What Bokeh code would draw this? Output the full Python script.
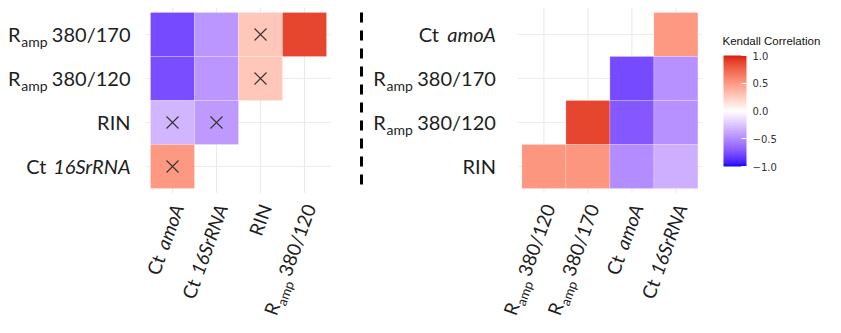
import numpy as np
from bokeh.plotting import figure
from bokeh.models import (ColumnDataSource, Range1d, LinearColorMapper, ColorBar,
                          FixedTicker, CustomJSTickFormatter, Label)
from bokeh.core.properties import value
from bokeh.transform import transform
from bokeh.embed import file_html
from bokeh.resources import INLINE

# ---------------- data ----------------
LEFT_X = ["Ct amoA", "Ct 16SrRNA", "RIN", "Ramp 380/120"]
LEFT_Y = ["Ct 16SrRNA", "RIN", "Ramp 380/120", "Ramp 380/170"]          # bottom -> top
left_cell_x = ["Ct amoA", "Ct 16SrRNA", "RIN", "Ramp 380/120",
               "Ct amoA", "Ct 16SrRNA", "RIN",
               "Ct amoA", "Ct 16SrRNA",
               "Ct amoA"]
left_cell_y = ["Ramp 380/170"] * 4 + ["Ramp 380/120"] * 3 + ["RIN"] * 2 + ["Ct 16SrRNA"]
left_tau = [-0.78, -0.45, 0.28, 0.88,
            -0.76, -0.45, 0.28,
            -0.32, -0.43,
            0.50]
left_nonsig = [0, 0, 1, 0,
               0, 0, 1,
               1, 1,
               1]

RIGHT_X = ["Ramp 380/120", "Ramp 380/170", "Ct amoA", "Ct 16SrRNA"]
RIGHT_Y = ["RIN", "Ramp 380/120", "Ramp 380/170", "Ct amoA"]             # bottom -> top
right_cell_x = ["Ct 16SrRNA",
                "Ct amoA", "Ct 16SrRNA",
                "Ramp 380/170", "Ct amoA", "Ct 16SrRNA",
                "Ramp 380/120", "Ramp 380/170", "Ct amoA", "Ct 16SrRNA"]
right_cell_y = ["Ct amoA"] + ["Ramp 380/170"] * 2 + ["Ramp 380/120"] * 3 + ["RIN"] * 4
right_tau = [0.50,
             -0.78, -0.47,
             0.88, -0.72, -0.47,
             0.52, 0.52, -0.50, -0.35]

LEGEND_TITLE = "Kendall Correlation"
LEGEND_TICKS = [-1.0, -0.5, 0.0, 0.5, 1.0]

# label rich-text parts: (text, kind)
LABEL_PARTS = {
    "Ct amoA": [("Ct", "normal"), ("amoA", "italic")],
    "Ct 16SrRNA": [("Ct", "normal"), ("16SrRNA", "italic")],
    "RIN": [("RIN", "normal")],
    "Ramp 380/120": [("R", "normal"), ("amp", "sub"), ("380/120", "normal")],
    "Ramp 380/170": [("R", "normal"), ("amp", "sub"), ("380/170", "normal")],
}

# ---------------- layout constants (pixels) ----------------
W, H = 825, 317
S = 44.0                       # pixels per cell
X0 = -172 / S
Y0 = -(H - 166) / S
OFF_R = (543.4 - 172) / S      # right panel offset in cell units
DASH_X = (361 - 172) / S
SEG_W = {"380/120": 77, "380/170": 77, "amp": 27, "amoA": 54, "16SrRNA": 81,
         "RIN": 31, "Ct": 20, "R": 14}
GAP_BEFORE = {"amp": 0, "380/120": 6, "380/170": 6, "amoA": 3, "16SrRNA": 3}
SUB_SHIFT = 8
BASE_CORR = -8                 # renderer baseline correction (px, perpendicular)
ANG = np.deg2rad(70)
XL_SCALE = 0.95                # x-axis labels slightly smaller so they fit
TXT_COLOR = "#1e1e1e"
FONT = "Lato"


# ---------------- colour palette (Lab interpolation like gradient2) ----------------
def _hex(h):
    h = h.lstrip("#")
    return np.array([int(h[i:i + 2], 16) for i in (0, 2, 4)]) / 255.0


_M = np.array([[0.4124, 0.3576, 0.1805], [0.2126, 0.7152, 0.0722], [0.0193, 0.1192, 0.9505]])
_WHITE = np.array([0.95047, 1.0, 1.08883])


def to_lab(rgb):
    lin = np.where(rgb <= 0.04045, rgb / 12.92, ((rgb + 0.055) / 1.055) ** 2.4)
    xyz = _M @ lin / _WHITE
    d = 6 / 29
    f = np.where(xyz > d ** 3, np.cbrt(xyz), xyz / (3 * d * d) + 4 / 29)
    return np.array([116 * f[1] - 16, 500 * (f[0] - f[1]), 200 * (f[1] - f[2])])


def from_lab(lab):
    fy = (lab[0] + 16) / 116
    f = np.array([fy + lab[1] / 500, fy, fy - lab[2] / 200])
    d = 6 / 29
    xyz = np.where(f > d, f ** 3, 3 * d * d * (f - 4 / 29)) * _WHITE
    lin = np.clip(np.linalg.solve(_M, xyz), 0, 1)
    rgb = np.where(lin <= 0.0031308, 12.92 * lin, 1.055 * lin ** (1 / 2.4) - 0.055)
    r, g, b = (np.clip(rgb, 0, 1) * 255).round().astype(int)
    return "#%02x%02x%02x" % (r, g, b)


def gradient2(n, low, mid, high):
    lo, mi, hi = to_lab(_hex(low)), to_lab(_hex(mid)), to_lab(_hex(high))
    out = []
    for t in np.linspace(-1, 1, n):
        lab = mi + (lo - mi) * (-t) if t < 0 else mi + (hi - mi) * t
        out.append(from_lab(lab))
    return out


PALETTE = gradient2(256, "#0000FF", "#FFFFFF", "#DC1A12")
mapper = LinearColorMapper(palette=PALETTE, low=-1, high=1)

# ---------------- figure ----------------
p = figure(width=W, height=H, x_range=Range1d(X0, X0 + W / S), y_range=Range1d(Y0, Y0 + H / S),
           output_backend="svg", toolbar_location=None, x_axis_location=None,
           y_axis_location=None, min_border=0, outline_line_color=None)
p.background_fill_color = "white"
p.border_fill_color = "white"
p.grid.visible = False

panels = [(LEFT_X, LEFT_Y, left_cell_x, left_cell_y, left_tau, left_nonsig, 0.0, 20),
          (RIGHT_X, RIGHT_Y, right_cell_x, right_cell_y, right_tau, [0] * len(right_tau), OFF_R, 26)]

parts = {}


def add_label(label, ax, ay, angle, k):
    segs = LABEL_PARTS[label]
    end = 0.0
    ends = []
    for txt, kind in reversed(segs):
        ends.append(end)
        end = end - (SEG_W[txt] + GAP_BEFORE.get(txt, 0)) * k
    ends = ends[::-1]
    for (txt, kind), d in zip(segs, ends):
        s = (SUB_SHIFT if kind == "sub" else 0) * k + BASE_CORR * k
        dx = d * np.cos(angle) + s * np.sin(angle)
        dyd = -d * np.sin(angle) + s * np.cos(angle)
        dct = parts.setdefault((kind, k), dict(x=[], y=[], text=[], angle=[]))
        dct["x"].append(ax + dx / S)
        dct["y"].append(ay - dyd / S)
        dct["text"].append(txt)
        dct["angle"].append(angle)


for xs, ys, cx, cy, tau, ns, off, ygap in panels:
    n = len(xs)
    # grid
    gx0 = [off + i for i in range(n)] + [off - 0.6] * len(ys)
    gx1 = [off + i for i in range(n)] + [off + n - 0.4] * len(ys)
    gy0 = [-0.6] * n + list(range(len(ys)))
    gy1 = [len(ys) - 0.4] * n + list(range(len(ys)))
    p.segment(x0=gx0, y0=gy0, x1=gx1, y1=gy1, line_color="#EBEBEB", line_width=1.1)
    # cells
    src = ColumnDataSource(dict(x=[off + xs.index(a) for a in cx],
                                y=[ys.index(b) for b in cy], tau=tau))
    p.rect(x="x", y="y", width=1, height=1, source=src,
           fill_color=transform("tau", mapper), line_color="white", line_width=0.4, line_alpha=0.5)
    # non-significant crosses
    mx = [off + xs.index(a) for a, f in zip(cx, ns) if f]
    my = [ys.index(b) for b, f in zip(cy, ns) if f]
    if mx:
        p.scatter(x=mx, y=my, marker="x", size=17, line_color="#333333", line_width=1.1)
    # y labels
    for j, lab in enumerate(ys):
        add_label(lab, off - 0.5 - ygap / S, j - 7 / S, 0.0, 1.0)
    # x labels
    for i, lab in enumerate(xs):
        add_label(lab, off + i + 12 / S, -0.5 - 19 / S, ANG, XL_SCALE)

for (kind, k), d in parts.items():
    src = ColumnDataSource(d)
    size = (14 if kind == "sub" else 20) * k
    p.text(x="x", y="y", text="text", angle="angle", source=src,
           text_align="right", text_baseline="alphabetic",
           text_font=value(FONT), text_font_size=f"{size:.1f}px",
           text_font_style="italic" if kind == "italic" else "normal",
           text_color=TXT_COLOR)

# dashed separator
p.line(x=[DASH_X, DASH_X], y=[len(LEFT_Y) - 0.5, -0.5], line_color="black",
       line_width=3, line_dash="10 8")

# colour bar
cb = ColorBar(color_mapper=mapper, location=(723, H - 166), width=23, height=111, padding=0,
              ticker=FixedTicker(ticks=LEGEND_TICKS),
              formatter=CustomJSTickFormatter(code="return (tick < 0 ? '\u2212' : '') + Math.abs(tick).toFixed(1);"),
              major_label_text_font="DejaVu Sans", major_label_text_font_size="10px",
              major_label_text_color="#333333", label_standoff=6,
              major_tick_line_color="white", major_tick_in=5, major_tick_out=0,
              minor_tick_line_color=None, bar_line_color=None,
              background_fill_alpha=0, border_line_color=None)
p.add_layout(cb)

p.add_layout(Label(x=722, y=H - 40, x_units="screen", y_units="screen", text=LEGEND_TITLE,
                   text_font="Liberation Sans", text_font_size="11.5px", text_color="#111111",
                   text_align="left", text_baseline="alphabetic"))

open("out.html", "w").write(file_html(p, INLINE))
